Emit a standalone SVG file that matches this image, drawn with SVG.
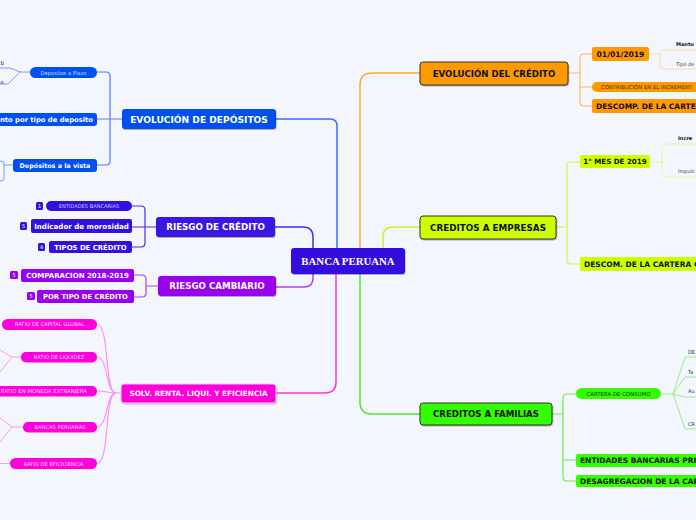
<svg xmlns="http://www.w3.org/2000/svg" width="696" height="520" viewBox="0 0 696 520">
<defs>
<filter id="sh" x="-10%" y="-20%" width="120%" height="150%"><feDropShadow dx="0.6" dy="1" stdDeviation="0.6" flood-color="#000" flood-opacity="0.3"/></filter>
</defs>
<style>
.t{font-family:"DejaVu Sans","Verdana",sans-serif;}
.b{font-weight:bold;}
.w{fill:#fff;}
.k{fill:#111;}
.m{text-anchor:middle;}
.e{text-anchor:end;}
.c{fill:none;stroke-linecap:round;stroke-linejoin:round;}
</style>
<rect width="696" height="520" fill="#f3f6fd"/>
<g id="connectors">
<path class="c" stroke="#3f6cff" stroke-width="1.5" d="M276 119 H330 Q337 119 337 126 V248"/>
<path class="c" stroke="#ffaa33" stroke-width="1.5" d="M420 73 H372 Q360 73 360 85 V248"/>
<path class="c" stroke="#cdee33" stroke-width="1.5" d="M420 227 H393 Q383 227 383 237 V248"/>
<path class="c" stroke="#44ee22" stroke-width="1.5" d="M360 274 V402 Q360 414 372 414 H420"/>
<path class="c" stroke="#ff33dd" stroke-width="1.5" d="M336 274 V382 Q336 393 325 393 H276"/>
<path class="c" stroke="#4a2aee" stroke-width="1.5" d="M313 248 V237 Q313 227 303 227 H275"/>
<path class="c" stroke="#b040f0" stroke-width="1.5" d="M313 274 V278 Q313 287 304 287 H276"/>
<path class="c" stroke="#5577ff" stroke-width="1.2" d="M122 119 H97 M97 72 H106 Q110 72 110 76 V161 Q110 165 106 165 H97"/>
<path class="c" stroke="#7f9aff" stroke-width="1" d="M30 72 H20 L10 68 H0 M20 72 L8 84 H0 M13 165 H4 M0 161 H1 Q4 161 4 164 V178 Q4 181 1 181 H0"/>
<path class="c" stroke="#4a2aee" stroke-width="1.2" d="M156 227 H132 M132 206 H141 Q145 206 145 210 V243 Q145 247 141 247 H132"/>
<path class="c" stroke="#b040f0" stroke-width="1.2" d="M158 286 H146 M134 275 H142 Q146 275 146 279 V293 Q146 297 142 297 H134"/>
<path class="c" stroke="#ff88ee" stroke-width="1.1" d="M121 393 H116 M97 324.5 C110 324.5 104 393 116 393 M97 357 C108 357 106 393 116 393 M97 391 C106 391 108 393 116 393 M97 427 C108 427 106 393 116 393 M97 463.5 C110 463.5 104 393 116 393"/>
<path class="c" stroke="#ff99ee" stroke-width="1" d="M21 357 H12 L0 350 M12 357 L0 372 M23 427 H12 L0 418 M12 427 L0 442 M10 463.5 H0"/>
<path class="c" stroke="#ffbb55" stroke-width="1.2" d="M568 73 H580 M592 54 H584 Q580 54 580 58 V102 Q580 106 584 106 H592 M580 87 H592"/>
<path class="c" stroke="#ffd9a0" stroke-width="1" d="M649 54 H660 M696 50 H665 Q660 50 660 55 V64 Q660 69 665 69 H696"/>
<path class="c" stroke="#d8f04a" stroke-width="1.2" d="M556 227 H567 M580 162 H571 Q567 162 567 166 V260 Q567 264 571 264 H580"/>
<path class="c" stroke="#e6f5a0" stroke-width="1" d="M650 162 H662 M696 144 H667 Q662 144 662 149 V172 Q662 177 667 177 H696"/>
<path class="c" stroke="#66ee44" stroke-width="1.2" d="M552 414 H563 M576 394 H567 Q563 394 563 398 V477 Q563 481 567 481 H576 M563 460 H576"/>
<path class="c" stroke="#99ee88" stroke-width="1" d="M661 394 H673 L685 357 H696 M673 394 L685 377 H696 M673 394 L685 397 H696 M673 394 L685 429 H696"/>
</g>
<g id="n-center"><rect x="291" y="248" width="114" height="26" rx="3" fill="#3311dd" filter="url(#sh)"/><text x="348" y="265" class="m w" font-family="Liberation Serif,serif" font-weight="bold" font-size="10.8">BANCA PERUANA</text></g>
<g id="n-depositos"><rect x="122" y="109" width="154" height="20" rx="3" fill="#0050ee" filter="url(#sh)"/><text x="199" y="122.5" class="t b w m" font-size="9.1">EVOLUCIÓN DE DEPÓSITOS</text></g>
<g id="n-credito"><rect x="420" y="62" width="148" height="23" rx="3" fill="#ff9900" stroke="#333" filter="url(#sh)"/><text x="494" y="76.5" class="t b k m" font-size="8.6">EVOLUCIÓN DEL CRÉDITO</text></g>
<g id="n-empresas"><rect x="420" y="216" width="136" height="23" rx="3" fill="#ccff00" stroke="#333" filter="url(#sh)"/><text x="488" y="230.5" class="t b k m" font-size="8.8">CREDITOS A EMPRESAS</text></g>
<g id="n-familias"><rect x="420" y="403" width="132" height="22" rx="3" fill="#33ff00" stroke="#333" filter="url(#sh)"/><text x="486" y="417" class="t b k m" font-size="8.6">CREDITOS A FAMILIAS</text></g>
<g id="n-riesgo-credito"><rect x="156" y="217" width="119" height="20" rx="3" fill="#3b18e0" filter="url(#sh)"/><text x="215.5" y="230" class="t b w m" font-size="8.7">RIESGO DE CRÉDITO</text></g>
<g id="n-riesgo-cambiario"><rect x="158" y="276" width="118" height="20" rx="3" fill="#9900ee" filter="url(#sh)"/><text x="217" y="289" class="t b w m" font-size="8.7">RIESGO CAMBIARIO</text></g>
<g id="n-solv"><rect x="121" y="384" width="155" height="19" rx="3" fill="#ff00dd" stroke="#d8d8d8" filter="url(#sh)"/><text x="198.5" y="396" class="t b w m" font-size="7.3">SOLV. RENTA. LIQUI. Y EFICIENCIA</text></g>

<g id="n-plazo"><rect x="30" y="67" width="67" height="11" rx="5.5" fill="#0050ee"/><text x="63.5" y="74.5" class="t m" fill="#d0dbff" font-size="5.2">Depositos a Plazo</text></g>
<g id="n-plazo-sub"><text x="4" y="65" class="t e" fill="#333" font-size="5.5">b</text><text x="4" y="84" class="t e" fill="#333" font-size="5.5">e</text></g>
<g id="n-tipo-deposito"><rect x="-60" y="113" width="157" height="13" rx="3" fill="#0050ee"/><text x="93" y="122" class="t b w e" font-size="6.8">nto por tipo de deposito</text></g>
<g id="n-vista"><rect x="13" y="159" width="84" height="13" rx="3" fill="#0050ee"/><text x="55" y="167.8" class="t b w m" font-size="6.4">Depósitos a la vista</text></g>

<g id="n-entidades"><rect x="46" y="201" width="86" height="10" rx="5" fill="#3311dd"/><text x="89" y="207.8" class="t m" fill="#c8c0ff" font-size="5.1">ENTIDADES BANCARIAS</text><rect x="36" y="202" width="7" height="8" rx="1.5" fill="#3311dd"/><text x="39.5" y="208.2" class="t w m" font-size="5">1</text></g>
<g id="n-morosidad"><rect x="31" y="219" width="101" height="14" rx="2" fill="#3311dd"/><text x="81.5" y="228.5" class="t b w m" font-size="7.1">Indicador de morosidad</text><rect x="20" y="222" width="7" height="8" rx="1.5" fill="#3311dd"/><text x="23.5" y="228.2" class="t w m" font-size="5">5</text></g>
<g id="n-tipos"><rect x="49" y="241" width="83" height="12" rx="2" fill="#3311dd"/><text x="90.5" y="249.5" class="t b w m" font-size="6.9">TIPOS DE CRÉDITO</text><rect x="38" y="243" width="7" height="8" rx="1.5" fill="#3311dd"/><text x="41.5" y="249.2" class="t w m" font-size="5">4</text></g>
<g id="n-comparacion"><rect x="21" y="269" width="113" height="13" rx="2" fill="#9900ee"/><text x="77.5" y="278" class="t b w m" font-size="7">COMPARACION 2018-2019</text><rect x="10" y="271" width="8" height="8" rx="1.5" fill="#9900ee"/><text x="14" y="277.2" class="t w m" font-size="5">5</text></g>
<g id="n-por-tipo"><rect x="37" y="290" width="97" height="13" rx="2" fill="#9900ee"/><text x="85.5" y="299" class="t b w m" font-size="6.8">POR TIPO DE CRÉDITO</text><rect x="27" y="292" width="8" height="8" rx="1.5" fill="#9900ee"/><text x="31" y="298.2" class="t w m" font-size="5">5</text></g>

<g id="n-capital"><rect x="2" y="319" width="95" height="11" rx="5.5" fill="#ff00dd"/><text x="49.5" y="326.3" class="t m" fill="#ffd6f6" font-size="5.2">RATIO DE CAPITAL GLOBAL</text></g>
<g id="n-liquidez"><rect x="21" y="352" width="76" height="10.5" rx="5" fill="#ff00dd"/><text x="59" y="359" class="t m" fill="#ffd6f6" font-size="5.2">RATIO DE LIQUIDEZ</text></g>
<g id="n-extranjera"><rect x="-20" y="386" width="117" height="10.5" rx="5" fill="#ff00dd"/><text x="87" y="393" class="t e" fill="#ffd6f6" font-size="5.4">RATIO EN MONEDA EXTRANJERA</text></g>
<g id="n-bancas"><rect x="23" y="422" width="74" height="10.5" rx="5" fill="#ff00dd"/><text x="60" y="429" class="t m" fill="#ffd6f6" font-size="5.2">BANCAS PERUANAS</text></g>
<g id="n-eficiencia"><rect x="10" y="458" width="87" height="11" rx="5.5" fill="#ff00dd"/><text x="53.5" y="465.5" class="t m" fill="#ffd6f6" font-size="5.2">RATIO DE EFICICIENCIA</text></g>

<g id="n-fecha"><rect x="592" y="47" width="57" height="14" rx="2" fill="#ff9900"/><text x="620.5" y="56.7" class="t b k m" font-size="7.6">01/01/2019</text></g>
<g id="n-fecha-sub"><text x="676" y="45.5" class="t b k" font-size="5">Mantu</text><text x="676" y="65.5" class="t" fill="#444" font-size="5">Tipo de</text></g>
<g id="n-contribucion"><rect x="592" y="82" width="120" height="10" rx="5" fill="#ff9900"/><text x="601" y="89" class="t" fill="#4a2a00" font-size="5.3">CONTRIBUCION EN EL INCREMENT</text></g>
<g id="n-descomp"><rect x="592" y="99" width="120" height="14" rx="2" fill="#ff9900"/><text x="596" y="108.5" class="t b k" font-size="7.5">DESCOMP. DE LA CARTERA</text></g>
<g id="n-mes"><rect x="580" y="155" width="70" height="13" rx="2" fill="#ccff00"/><text x="615" y="164.3" class="t b k m" font-size="7.1">1° MES DE 2019</text></g>
<g id="n-mes-sub"><text x="678" y="139.5" class="t b k" font-size="5">Incre</text><text x="678" y="172.5" class="t" fill="#444" font-size="5">Impuls</text></g>
<g id="n-descom"><rect x="580" y="257" width="130" height="14" rx="2" fill="#ccff00"/><text x="584" y="266.5" class="t b k" font-size="7.5">DESCOM. DE LA CARTERA CO</text></g>
<g id="n-consumo"><rect x="576" y="388" width="85" height="11" rx="5.5" fill="#33ff00"/><text x="618.5" y="395.6" class="t m" fill="#124400" font-size="5.4">CARTERA DE CONSUMO</text></g>
<g id="n-consumo-sub"><text x="688" y="353.5" class="t" fill="#333" font-size="5">DE</text><text x="688" y="373.5" class="t" fill="#333" font-size="5">Ta</text><text x="688" y="392.5" class="t" fill="#333" font-size="5">Au</text><text x="688" y="425.5" class="t" fill="#333" font-size="5">CR</text></g>
<g id="n-privadas"><rect x="576" y="454" width="130" height="13" rx="2" fill="#33ff00"/><text x="580" y="463" class="t b k" font-size="7.5">ENTIDADES BANCARIAS PRIV</text></g>
<g id="n-desagregacion"><rect x="576" y="475" width="130" height="12" rx="2" fill="#33ff00"/><text x="580" y="483.6" class="t b k" font-size="7.5">DESAGREGACION DE LA CART</text></g>
</svg>
